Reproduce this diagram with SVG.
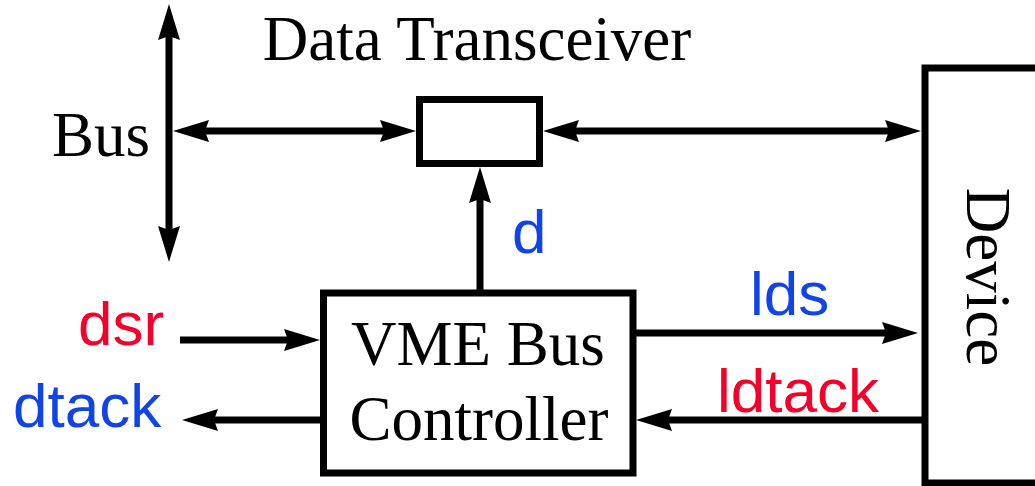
<svg xmlns="http://www.w3.org/2000/svg" width="1035" height="486" viewBox="0 0 1035 486">
<style>
.box{fill:#fff;stroke:#000;stroke-width:7}
.ln{stroke:#000;stroke-width:7;fill:none}
.ser{font-family:"Liberation Serif","Times New Roman",serif;font-size:63px;fill:#000}
.sans{font-family:"Liberation Sans",Arial,sans-serif;font-size:62px}
.blue{fill:#1144e6}
.red{fill:#f5002a}
</style>
<defs>
<marker id="ah" markerUnits="userSpaceOnUse" markerWidth="40" markerHeight="30" viewBox="-8 -12 40 24" refX="0" refY="0" orient="auto-start-reverse">
<path d="M30,0 L-6,-11 L-2,0 L-6,11 Z" fill="#000"/>
</marker>
</defs>
<rect width="1035" height="486" fill="#fff"/>
<g id="connectors">
<line class="ln" x1="169" y1="34" x2="169" y2="232" marker-start="url(#ah)" marker-end="url(#ah)"/>
<line class="ln" x1="203" y1="131" x2="386" y2="131" marker-start="url(#ah)" marker-end="url(#ah)"/>
<line class="ln" x1="573" y1="131" x2="891" y2="131" marker-start="url(#ah)" marker-end="url(#ah)"/>
<line class="ln" x1="480" y1="292" x2="480" y2="197" marker-end="url(#ah)"/>
<line class="ln" x1="180" y1="340" x2="290" y2="340" marker-end="url(#ah)"/>
<line class="ln" x1="322" y1="420" x2="212" y2="420" marker-end="url(#ah)"/>
<line class="ln" x1="634" y1="333" x2="888" y2="333" marker-end="url(#ah)"/>
<line class="ln" x1="924" y1="420" x2="666" y2="420" marker-end="url(#ah)"/>
</g>
<g id="bus">
<text class="ser" x="52" y="156">Bus</text>
</g>
<g id="transceiver">
<rect class="box" x="419.5" y="99.5" width="120" height="64"/>
<text class="ser" x="477" y="60" text-anchor="middle">Data Transceiver</text>
</g>
<g id="controller">
<rect class="box" x="323.5" y="293" width="309.5" height="180"/>
<text class="ser" x="478" y="365" text-anchor="middle">VME Bus</text>
<text class="ser" x="479" y="440" text-anchor="middle">Controller</text>
</g>
<g id="device">
<rect class="box" x="925" y="68" width="130" height="415"/>
<text class="ser" transform="translate(967,277) rotate(90)" text-anchor="middle">Device</text>
</g>
<g id="labels">
<text class="sans blue" x="512" y="253">d</text>
<text class="sans red" x="78" y="345">dsr</text>
<text class="sans blue" x="13" y="427">dtack</text>
<text class="sans blue" x="750" y="315">lds</text>
<text class="sans red" x="717" y="412">ldtack</text>
</g>
</svg>
